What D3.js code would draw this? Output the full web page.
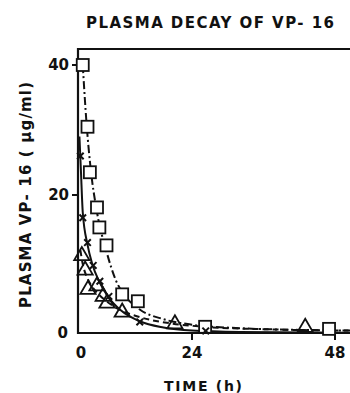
<!DOCTYPE html>
<html>
<head>
<meta charset="utf-8">
<script src="https://cdn.jsdelivr.net/npm/d3@7"></script>
<style>
  body { margin: 0; background: #fff; }
  svg { display: block; }
  text { font-family: "DejaVu Sans", sans-serif; font-weight: bold; fill: #111; }
</style>
</head>
<body>
<div id="chart"></div>
<script>
// measured points: [time (h), concentration (ug/ml)]
const squares = [[1, 40], [2, 30.5], [2.5, 23.5], [4, 18.2], [4.5, 15.3], [6, 12.7], [9.3, 5.6], [12.6, 4.6], [26.2, 0.9], [47, 0.6]];
const crosses = [[0.5, 26], [1, 16.7], [2, 13.1], [3.2, 9.8], [4.6, 7.5], [6.5, 5.3], [13, 1.6], [26.3, 0.3]];
const triangles = [[0.8, 11.2], [1.5, 9.1], [2.1, 6.3], [4, 6.8], [5.3, 5.3], [6.1, 4.3], [9.3, 3.0], [20.4, 1.3], [43, 0.8]];

// fitted decay curves
const squareFit = [[1, 40], [1.8, 31], [2.6, 24.5], [4, 17.5], [6, 11.8], [8, 7.6], [10, 5.3], [13, 3.4], [18, 2.0], [24, 1.2], [32, 0.7], [42, 0.45], [51, 0.35]];
const crossFit = [[0.3, 29], [0.6, 24], [1, 17.5], [2, 12.8], [3, 10], [4.5, 7.4], [6.5, 5.1], [9, 3.3], [13, 1.7], [18, 0.8], [24, 0.35], [32, 0.15], [51, 0.05]];
const triangleFit = [[0.5, 12], [1, 10], [2, 7.9], [3, 6.7], [4.5, 5.5], [6, 4.6], [9, 3.3], [13, 2.3], [20, 1.35], [26, 0.9], [36, 0.55], [51, 0.35]];

const xTicks = [0, 24, 48];
const yTicks = [0, 20, 40];

const width = 350, height = 393;
const m = { left: 78, top: 49, bottom: 333, right: 350 };

const svg = d3.select("#chart").append("svg")
  .attr("width", width)
  .attr("height", height);

// the hand-drawn axes are not quite even, so the scales are piecewise
const x = d3.scaleLinear().domain([0, 24, 48]).range([m.left, 192, 335]);
const y = d3.scaleLinear().domain([0, 20, 40]).range([m.bottom, 195, 65]);

// frame: left, top, bottom
svg.append("path")
  .attr("d", `M${m.right},${m.top}H${m.left}V${m.bottom}H${m.right}`)
  .attr("fill", "none")
  .attr("stroke", "#111")
  .attr("stroke-width", 2.2);

// y ticks + labels
svg.selectAll(".ytick")
  .data(yTicks.filter(d => d > 0))
  .enter().append("line")
  .attr("x1", m.left - 6).attr("x2", m.left)
  .attr("y1", d => y(d)).attr("y2", d => y(d))
  .attr("stroke", "#111").attr("stroke-width", 2);

svg.selectAll(".ylab")
  .data(yTicks)
  .enter().append("text")
  .attr("x", d => d === 0 ? 68 : 69)
  .attr("y", d => y(d))
  .attr("dy", "0.36em")
  .attr("text-anchor", "end")
  .style("font-size", "15px")
  .text(d => d);

// x ticks + labels
svg.selectAll(".xtick")
  .data(xTicks.filter(d => d > 0))
  .enter().append("line")
  .attr("x1", d => x(d)).attr("x2", d => x(d))
  .attr("y1", m.bottom).attr("y2", m.bottom + 7)
  .attr("stroke", "#111").attr("stroke-width", 2);

svg.selectAll(".xlab")
  .data(xTicks)
  .enter().append("text")
  .attr("x", d => d === 0 ? x(d) + 3 : x(d))
  .attr("y", 358)
  .attr("text-anchor", "middle")
  .style("font-size", "15px")
  .text(d => d);

// titles
svg.append("text")
  .attr("x", 210).attr("y", 28)
  .attr("text-anchor", "middle")
  .attr("textLength", 248)
  .attr("lengthAdjust", "spacing")
  .style("font-size", "15px")
  .text("PLASMA DECAY OF  VP- 16");

svg.append("text")
  .attr("x", 203).attr("y", 391)
  .attr("text-anchor", "middle")
  .attr("textLength", 78)
  .attr("lengthAdjust", "spacing")
  .style("font-size", "14px")
  .text("TIME (h)");

svg.append("text")
  .attr("transform", "translate(31,195) rotate(-90)")
  .attr("text-anchor", "middle")
  .attr("textLength", 226)
  .attr("lengthAdjust", "spacing")
  .style("font-size", "15px")
  .text("PLASMA VP- 16 ( \u03bcg/ml)");

// curves
const line = d3.line()
  .x(d => x(d[0]))
  .y(d => y(d[1]))
  .curve(d3.curveMonotoneX);

const plot = svg.append("g");

plot.append("path")
  .datum(squareFit)
  .attr("d", line)
  .attr("fill", "none")
  .attr("stroke", "#111")
  .attr("stroke-width", 2)
  .attr("stroke-dasharray", "8,3,2,3");

plot.append("path")
  .datum(triangleFit)
  .attr("d", line)
  .attr("fill", "none")
  .attr("stroke", "#111")
  .attr("stroke-width", 2)
  .attr("stroke-dasharray", "6,4");

plot.append("path")
  .datum(crossFit)
  .attr("d", line)
  .attr("fill", "none")
  .attr("stroke", "#111")
  .attr("stroke-width", 2);

// markers
const sq = 12;
plot.selectAll(".sq")
  .data(squares)
  .enter().append("rect")
  .attr("x", d => x(d[0]) - sq / 2)
  .attr("y", d => y(d[1]) - sq / 2)
  .attr("width", sq).attr("height", sq)
  .attr("fill", "#fff")
  .attr("stroke", "#111")
  .attr("stroke-width", 1.8);

const tri = d3.symbol().type(d3.symbolTriangle).size(100);
plot.selectAll(".tri")
  .data(triangles)
  .enter().append("path")
  .attr("d", tri)
  .attr("transform", d => `translate(${x(d[0])},${y(d[1])})`)
  .attr("fill", "none")
  .attr("stroke", "#111")
  .attr("stroke-width", 1.8);

const cr = d3.symbol().type(d3.symbolX).size(30);
plot.selectAll(".cr")
  .data(crosses)
  .enter().append("path")
  .attr("d", cr)
  .attr("transform", d => `translate(${x(d[0])},${y(d[1])})`)
  .attr("fill", "none")
  .attr("stroke", "#111")
  .attr("stroke-width", 2);
</script>
</body>
</html>
